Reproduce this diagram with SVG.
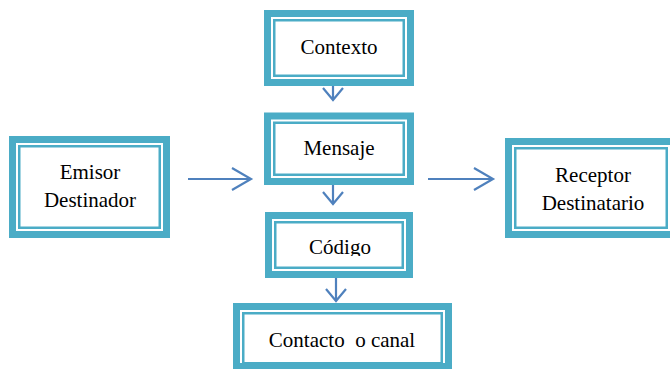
<svg xmlns="http://www.w3.org/2000/svg" width="670" height="369" viewBox="0 0 670 369">
<style>
.outer{fill:none;stroke:#4BACC6;stroke-width:7}
.inner{fill:#fff;stroke:#4BACC6;stroke-width:2.5}
.lbl{font-family:"Liberation Serif","Times New Roman",serif;font-size:21px;fill:#000;text-anchor:middle}
.arr{fill:none;stroke:#4F81BD;stroke-width:2.2}
</style>
<defs>
<clipPath id="clipCodigo"><rect x="265" y="212" width="148" height="44"/></clipPath>
</defs>
<rect width="670" height="369" fill="#fff"/>
<g id="connectors">
<path class="arr" d="M333 86V100M323 88L333 100L343 88"/>
<path class="arr" d="M333 185V204M323 192L333 204L343 192"/>
<path class="arr" d="M336 278V301M326 289L336 301L346 289"/>
<path class="arr" d="M188 179H251M232 168L251 179L232 190"/>
<path class="arr" d="M428 179H493M474 168L493 179L474 190"/>
</g>
<g id="contexto">
<rect class="outer" x="267.5" y="13.5" width="143" height="69"/>
<rect class="inner" x="274.25" y="20.25" width="129.5" height="55.5"/>
<text class="lbl" x="339" y="54">Contexto</text>
</g>
<g id="mensaje">
<rect class="outer" x="267.5" y="116" width="143" height="65.5"/>
<rect class="inner" x="274.25" y="122.75" width="129.5" height="52"/>
<text class="lbl" x="339" y="155">Mensaje</text>
</g>
<g id="codigo">
<rect class="outer" x="268.5" y="215.5" width="141" height="59"/>
<rect class="inner" x="275.25" y="222.25" width="127.5" height="45.5"/>
<text class="lbl" x="340" y="254" clip-path="url(#clipCodigo)">Código</text>
</g>
<g id="contacto">
<rect class="outer" x="236.5" y="306.5" width="212" height="60"/>
<rect class="inner" x="243.25" y="313.25" width="198.5" height="50"/>
<text class="lbl" x="342" y="347" xml:space="preserve">Contacto  o canal</text>
</g>
<g id="emisor">
<rect class="outer" x="12.5" y="139.5" width="154" height="95"/>
<rect class="inner" x="19.25" y="146.25" width="140.5" height="81.5"/>
<text class="lbl" x="90" y="179">Emisor</text>
<text class="lbl" x="90" y="207">Destinador</text>
</g>
<g id="receptor">
<rect class="outer" x="508.5" y="141.5" width="165" height="93"/>
<rect class="inner" x="515.25" y="148.25" width="151.5" height="79.5"/>
<text class="lbl" x="593" y="182">Receptor</text>
<text class="lbl" x="593" y="210">Destinatario</text>
</g>
</svg>
